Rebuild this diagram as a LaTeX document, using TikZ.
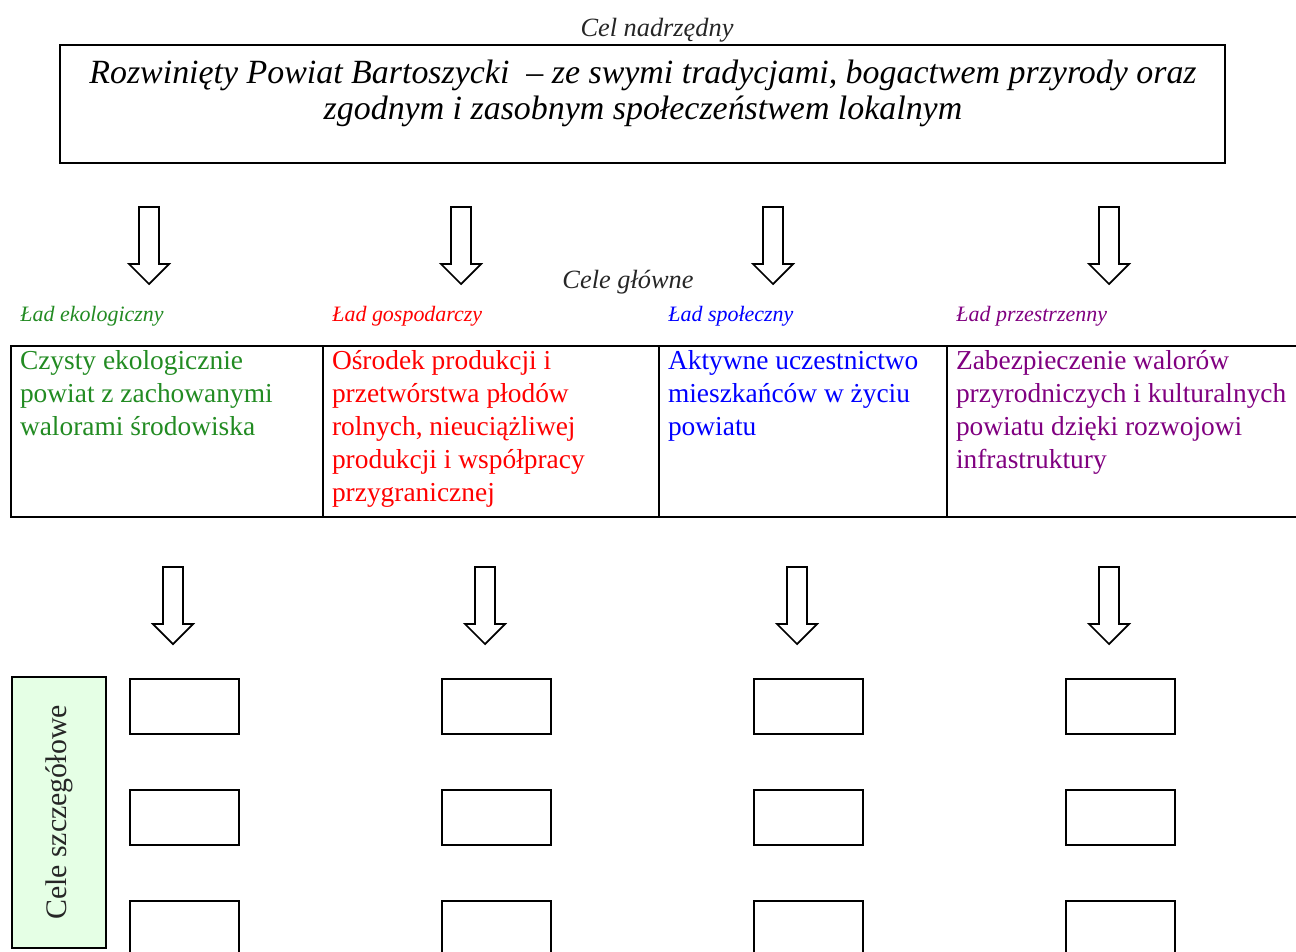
\documentclass[tikz,border=0pt]{standalone}
\usepackage{fontspec}
\setmainfont{Liberation Serif}
\usepackage{tikz}
\usetikzlibrary{positioning}
\definecolor{ekogreen}{RGB}{34,139,34}
\definecolor{gosred}{RGB}{255,0,0}
\definecolor{spoblue}{RGB}{0,0,255}
\definecolor{przpurple}{RGB}{128,0,128}
\definecolor{sidegreen}{RGB}{229,255,229}
\tikzset{
  goalbox/.style = {
    rectangle,
    draw = black,
    line width = 1pt,
    minimum width = 23.3cm,
    minimum height = 2.36cm
  },
  goaltext/.style = {
    align = center,
    font = \fontsize{19.3}{20.5}\selectfont\itshape
  },
  caption/.style = {
    anchor = base,
    font = \fontsize{15}{17}\selectfont\itshape,
    text = black!85
  },
  heading/.style = {
    anchor = base west,
    inner sep = 0pt,
    font = \fontsize{12.5}{15}\selectfont\itshape,
    text = #1
  },
  cell/.style = {
    rectangle,
    draw = black,
    line width = 1pt,
    anchor = north west,
    minimum width = #1,
    minimum height = 3.42cm
  },
  celltext/.style = {
    anchor = north west,
    align = left,
    inner xsep = 5.5pt,
    inner ysep = 3pt,
    font = \fontsize{15.6}{18.7}\selectfont,
    text = #1
  },
  slot/.style = {
    rectangle,
    draw = black,
    line width = 1pt,
    minimum width = 2.18cm,
    minimum height = 1.1cm
  },
  sidebar/.style = {
    rectangle,
    draw = black,
    line width = 1pt,
    fill = sidegreen,
    minimum width = 1.88cm,
    minimum height = 5.42cm
  },
}
% hollow block arrow pointing down, #1 = x, #2 = top of shaft (px)
\newcommand{\blockarrow}[2]{
  \draw[line width = 1pt, line join = miter]
    (#1-10,#2) -- (#1+10,#2) -- (#1+10,#2+57) -- (#1+20,#2+57)
    -- (#1,#2+77) -- (#1-20,#2+57) -- (#1-10,#2+57) -- cycle;
}

\begin{document}
\begin{tikzpicture}[x = 0.02cm, y = -0.02cm]
  \useasboundingbox (0,0) rectangle (1296,951);
  \clip (0,0) rectangle (1296,951);
  % cel nadrzedny
  \node[caption] (overtitle) at (657,36) {Cel nadrzędny};
  \node[goalbox] (goal) at (642.5,104) {};
  \node[goaltext] (goaltxt) at (643,93) {Rozwinięty Powiat Bartoszycki \ – ze swymi tradycjami, bogactwem przyrody oraz\\
    zgodnym i zasobnym społeczeństwem lokalnym};
  \blockarrow{149}{207}
  \blockarrow{461}{207}
  \blockarrow{773}{207}
  \blockarrow{1109}{207}
  % cele glowne
  \node[caption] (maintitle) at (628,288) {Cele główne};
  \node[heading = ekogreen] (h1) at (20,321) {Ład ekologiczny};
  \node[heading = gosred] (h2) at (332,321) {Ład gospodarczy};
  \node[heading = spoblue] (h3) at (668,321) {Ład społeczny};
  \node[heading = przpurple] (h4) at (956,321) {Ład przestrzenny};
  \node[cell = 6.24cm] (c1) at (10,345) {};
  \node[cell = 6.72cm] (c2) at (322,345) {};
  \node[cell = 5.76cm] (c3) at (658,345) {};
  \node[cell = 7.6cm] (c4) at (946,345) {};
  \node[celltext = ekogreen] (t1) at (c1.north west) {Czysty ekologicznie\\
    powiat z zachowanymi\\ walorami środowiska};
  \node[celltext = gosred] (t2) at (c2.north west) {Ośrodek produkcji i\\
    przetwórstwa płodów\\ rolnych, nieuciążliwej\\ produkcji i współpracy\\ przygranicznej};
  \node[celltext = spoblue] (t3) at (c3.north west) {Aktywne uczestnictwo\\
    mieszkańców w życiu\\ powiatu};
  \node[celltext = przpurple] (t4) at (c4.north west) {Zabezpieczenie walorów\\
    przyrodniczych i kulturalnych\\ powiatu dzięki rozwojowi\\ infrastruktury};
  \foreach \i in {0,...,3}
    \blockarrow{173+312*\i}{567}
  % cele szczegolowe
  \node[sidebar] (side) at (59,812.5) {};
  \node[rotate = 90, font = \fontsize{17}{19}\selectfont, text = black!85]
    (sidetxt) at (side.center) {Cele szczegółowe};
  \foreach \i in {0,...,3}
    \foreach \j in {0,...,2}
      \node[slot] (s-\i-\j) at (184.5+312*\i,706.5+111*\j) {};
\end{tikzpicture}
\end{document}
